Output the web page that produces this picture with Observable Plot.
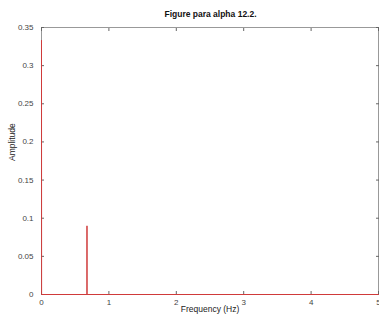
<!DOCTYPE html>
<html>
<head>
<meta charset="utf-8">
<script src="https://cdn.jsdelivr.net/npm/d3@7"></script>
<script src="https://cdn.jsdelivr.net/npm/@observablehq/plot@0.6"></script>
<style>
  html, body { margin: 0; padding: 0; background: #fff; }
  #title { height: 22px; width: 379px; text-align: center; font: bold 8.5px "Liberation Sans", Arial, sans-serif; color: #111; line-height: 28px; padding-left: 42px; box-sizing: border-box; }
  svg { display: block; }
</style>
</head>
<body>
<div id="title">Figure para alpha 12.2.</div>
<div id="chart"></div>
<script>
const titleText = "Figure para alpha 12.2.";
const xLabel = "Frequency (Hz)";
const yLabel = "Amplitude";
const freqs = [0, 0.0015, 0.6745, 0.675, 0.6755, 5];
const amps  = [0.333, 0, 0, 0.09, 0, 0];
const xTicks = [0, 1, 2, 3, 4, 5];
const yTicks = [0, 0.05, 0.1, 0.15, 0.2, 0.25, 0.3, 0.35];

const data = freqs.map((f, i) => ({f, a: amps[i]}));
const gray = "#666";

const chart = Plot.plot({
  width: 379,
  height: 298,
  marginLeft: 41,
  marginRight: 1,
  marginTop: 5,
  marginBottom: 26,
  style: {fontFamily: "Liberation Sans, Arial, sans-serif", fontSize: "8px", color: "#444", background: "#fff"},
  x: {domain: [0, 5]},
  y: {domain: [0, 0.35]},
  marks: [
    Plot.frame({stroke: "#999", strokeWidth: 1}),
    Plot.axisX({ticks: xTicks, tickSize: -3, tickPadding: 8, stroke: gray, label: null, tickFormat: d => String(d)}),
    Plot.axisX({ticks: xTicks, anchor: "top", tickSize: -3, stroke: gray, label: null, tickFormat: () => ""}),
    Plot.axisY({ticks: yTicks, tickSize: -3, tickPadding: 11, stroke: gray, label: null, tickFormat: d => String(d)}),
    Plot.axisY({ticks: yTicks, anchor: "right", tickSize: -3, stroke: gray, label: null, tickFormat: () => ""}),
    Plot.line(data, {x: "f", y: "a", stroke: "#d03a3a", strokeWidth: 1, fill: "none"}),
    Plot.text([xLabel], {frameAnchor: "bottom", dy: 17, text: d => d, fontSize: 8.5, fill: "#222"}),
    Plot.text([yLabel], {frameAnchor: "left", dx: -29, rotate: -90, text: d => d, fontSize: 8.5, fill: "#222"})
  ]
});
document.getElementById("chart").appendChild(chart);
</script>
</body>
</html>
